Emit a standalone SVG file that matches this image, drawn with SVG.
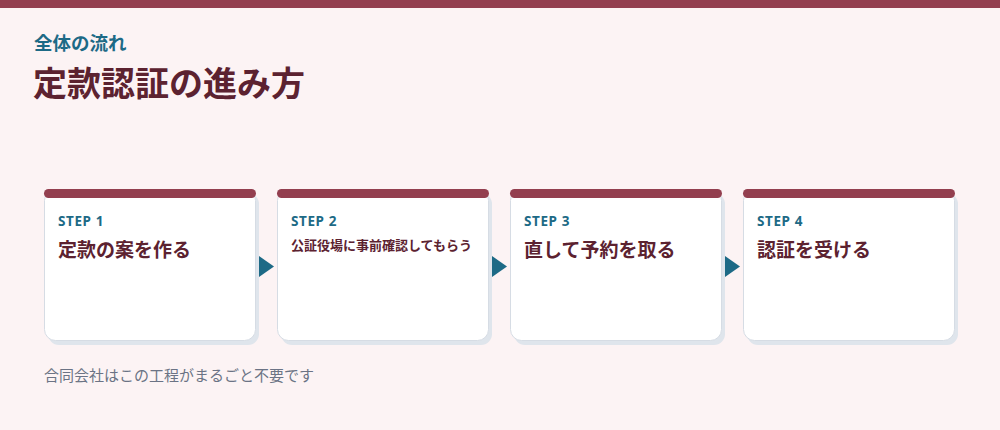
<svg xmlns="http://www.w3.org/2000/svg" width="1000" height="430" viewBox="0 0 1000 430">
<style>
.shadow{fill:#dfe5ec}
.card{fill:#ffffff;stroke:#d6dce4;stroke-width:1}
.bar{fill:#933f4f}
.step{font-family:"Noto Sans","Noto Sans CJK JP",sans-serif;font-size:13.5px;font-weight:700;fill:#1d6a86;letter-spacing:0.6px}
.ttl{font-family:"Noto Sans CJK JP","Noto Sans",sans-serif;font-size:19px;font-weight:700;fill:#5c2230}
.ttl-s{font-family:"Noto Sans CJK JP","Noto Sans",sans-serif;font-size:13px;font-weight:700;fill:#5c2230}
.arrow{fill:#1d6a86}
</style>
<rect width="1000" height="430" fill="#fcf3f4"/>
<rect width="1000" height="8" fill="#933f4f"/>
<text x="34" y="50" font-family="'Noto Sans CJK JP',sans-serif" font-size="18.5" font-weight="700" fill="#1d6a86">全体の流れ</text>
<text x="33" y="96" font-family="'Noto Sans CJK JP',sans-serif" font-size="34" font-weight="700" fill="#5c2230">定款認証の進み方</text>
<g id="step1">
<rect class="shadow" x="48" y="193" width="211" height="152" rx="11"/>
<rect class="card" x="44.5" y="189.5" width="211" height="151" rx="11"/>
<rect class="bar" x="44" y="189" width="212" height="9" rx="4.5"/>
<text class="step" x="58" y="226">STEP 1</text>
<text class="ttl" x="58" y="257">定款の案を作る</text>
</g>
<g id="step2">
<rect class="shadow" x="281" y="193" width="211" height="152" rx="11"/>
<rect class="card" x="277.5" y="189.5" width="211" height="151" rx="11"/>
<rect class="bar" x="277" y="189" width="212" height="9" rx="4.5"/>
<text class="step" x="291" y="226">STEP 2</text>
<text class="ttl-s" x="291" y="250">公証役場に事前確認してもらう</text>
</g>
<g id="step3">
<rect class="shadow" x="514" y="193" width="211" height="152" rx="11"/>
<rect class="card" x="510.5" y="189.5" width="211" height="151" rx="11"/>
<rect class="bar" x="510" y="189" width="212" height="9" rx="4.5"/>
<text class="step" x="524" y="226">STEP 3</text>
<text class="ttl" x="524" y="257">直して予約を取る</text>
</g>
<g id="step4">
<rect class="shadow" x="747" y="193" width="211" height="152" rx="11"/>
<rect class="card" x="743.5" y="189.5" width="211" height="151" rx="11"/>
<rect class="bar" x="743" y="189" width="212" height="9" rx="4.5"/>
<text class="step" x="757" y="226">STEP 4</text>
<text class="ttl" x="757" y="257">認証を受ける</text>
</g>
<g id="connectors">
<polygon class="arrow" points="259,256 274,266.5 259,277"/>
<polygon class="arrow" points="492,256 507,266.5 492,277"/>
<polygon class="arrow" points="725,256 740,266.5 725,277"/>
</g>
<text x="44" y="381" font-family="'Noto Sans CJK JP',sans-serif" font-size="15" fill="#6b7385">合同会社はこの工程がまるごと不要です</text>
</svg>
